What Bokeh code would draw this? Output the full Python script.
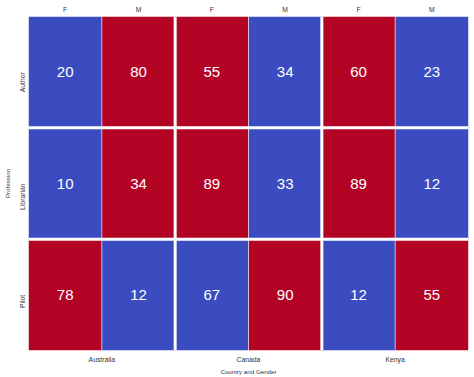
import math
from bokeh.plotting import figure
from bokeh.models import LinearAxis, FixedTicker, Range1d, Span, ColumnDataSource
from bokeh.core.properties import value
from bokeh.embed import file_html
from bokeh.resources import INLINE

countries = ["Australia", "Canada", "Kenya"]
genders = ["F", "M"]
professions = ["Author", "Librarian", "Pilot"]
author = [20, 80, 55, 34, 60, 23]
librarian = [10, 34, 89, 33, 89, 12]
pilot = [78, 12, 67, 90, 12, 55]
rows = [author, librarian, pilot]

LOW = "#3b4cc0"
HIGH = "#b40426"
FONT = "Liberation Sans"

ncols = len(countries) * len(genders)
nrows = len(professions)

left, right, top, bottom, xs, ys, txt, colors = [], [], [], [], [], [], [], []
for r, vals in enumerate(rows):
    for c, v in enumerate(vals):
        g0 = (c // len(genders)) * len(genders)
        pair = vals[g0:g0 + len(genders)]
        colors.append(HIGH if v == max(pair) else LOW)
        left.append(c); right.append(c + 1)
        top.append(r); bottom.append(r + 1)
        xs.append(c + 0.5); ys.append(r + 0.5)
        txt.append(str(v))

src = ColumnDataSource(dict(left=left, right=right, top=top, bottom=bottom,
                            x=xs, y=ys, text=txt, color=colors))

p = figure(width=474, height=377, output_backend="svg", toolbar_location=None,
           x_range=Range1d(0, ncols), y_range=Range1d(nrows, 0),
           x_axis_location=None, y_axis_location=None,
           min_border_left=26, min_border_top=16, min_border_right=6, min_border_bottom=25)
p.outline_line_color = None
p.xgrid.visible = False
p.ygrid.visible = False

p.quad(left="left", right="right", top="top", bottom="bottom", source=src,
       fill_color="color", line_color=None)

for c in range(1, ncols):
    if c % len(genders) == 0:
        p.add_layout(Span(location=c, dimension="height", line_color="white", line_width=3))
    else:
        p.add_layout(Span(location=c, dimension="height", line_color="white", line_width=1, line_alpha=0.6))
for r in range(1, nrows):
    p.add_layout(Span(location=r, dimension="width", line_color="white", line_width=3))

p.text(x="x", y="y", text="text", source=src, text_color="white",
       text_font=value(FONT), text_font_size="15px", text_align="center",
       text_baseline="middle")

def style(ax):
    ax.axis_line_color = None
    ax.major_tick_line_color = None
    ax.minor_tick_line_color = None
    ax.major_tick_out = 0
    ax.major_tick_in = 0
    ax.major_label_text_font = FONT
    ax.major_label_text_font_size = "6.8px"
    ax.major_label_text_color = "#333333"
    ax.axis_label_text_font = FONT
    ax.axis_label_text_font_size = "6.2px"
    ax.axis_label_text_font_style = "normal"
    ax.axis_label_text_color = "#333333"

gt = [c + 0.5 for c in range(ncols)]
top_ax = LinearAxis(ticker=FixedTicker(ticks=gt),
                    major_label_overrides={t: genders[i % len(genders)] for i, t in enumerate(gt)})
style(top_ax)
top_ax.major_label_standoff = 4
p.add_layout(top_ax, "above")

ct = [i * len(genders) + len(genders) / 2 for i in range(len(countries))]
bot_ax = LinearAxis(ticker=FixedTicker(ticks=ct),
                    major_label_overrides={t: countries[i] for i, t in enumerate(ct)},
                    axis_label="Country and Gender")
style(bot_ax)
bot_ax.major_label_standoff = 5
bot_ax.axis_label_standoff = 2
p.add_layout(bot_ax, "below")

pt = [r + 0.5 for r in range(nrows)]
left_ax = LinearAxis(ticker=FixedTicker(ticks=pt),
                     major_label_overrides={t: professions[i] for i, t in enumerate(pt)},
                     axis_label="Profession")
style(left_ax)
left_ax.major_label_orientation = math.pi / 2
left_ax.major_label_standoff = 6
left_ax.axis_label_standoff = 2
p.add_layout(left_ax, "left")

open("out.html", "w").write(file_html(p, INLINE))
